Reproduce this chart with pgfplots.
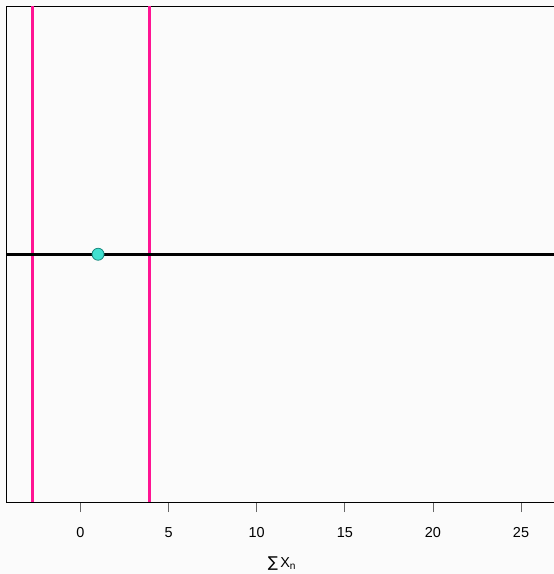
\documentclass[border=0pt]{standalone}
\usepackage{pgfplots}
\pgfplotsset{compat=1.18}
\usepackage{fontspec}
\setmainfont{Liberation Sans}
\newfontfamily\dv{DejaVu Sans}
\definecolor{bgc}{HTML}{FBFBFB}
\definecolor{deeppink}{HTML}{FF1493}
\definecolor{turq}{HTML}{40E0D0}
\definecolor{turqd}{HTML}{1A8A80}
\begin{document}
\begin{tikzpicture}
\useasboundingbox (0,0) rectangle (554bp,574bp);
\fill[bgc] (0,0) rectangle (554bp,574bp);
\begin{axis}[
  at={(6.5bp,72bp)}, anchor=south west,
  scale only axis, width=557bp, height=495.5bp,
  xmin=-4.195, xmax=27.41, ymin=-1, ymax=1,
  xtick={0,5,10,15,20,25},
  ytick=\empty,
  axis line style={black, line width=0.8bp},
  tick align=outside, tick pos=bottom,
  major tick length=10bp,
  every tick/.style={black!60, line width=0.8bp},
  xticklabel style={font=\fontsize{14.5}{16}\selectfont, yshift=-12bp},
  /pgf/number format/assume math mode=true,
  xlabel={\fontsize{14.5}{16}\selectfont{\dv\fontsize{15}{16}\selectfont ∑}\,X\textsubscript{n}},
  xlabel style={yshift=-12bp, xshift=-3bp},
  clip=true,
]
\addplot[deeppink, line width=3bp] coordinates {(-2.74,-1.2) (-2.74,1.2)};
\addplot[deeppink, line width=3bp] coordinates {(3.93,-1.2) (3.93,1.2)};
\addplot[black, line width=3bp] coordinates {(-6,0) (30,0)};
\addplot[only marks, mark=*, mark size=6bp, mark options={fill=turq, draw=turqd, line width=0.8bp}] coordinates {(1,0)};
\end{axis}
\end{tikzpicture}
\end{document}
